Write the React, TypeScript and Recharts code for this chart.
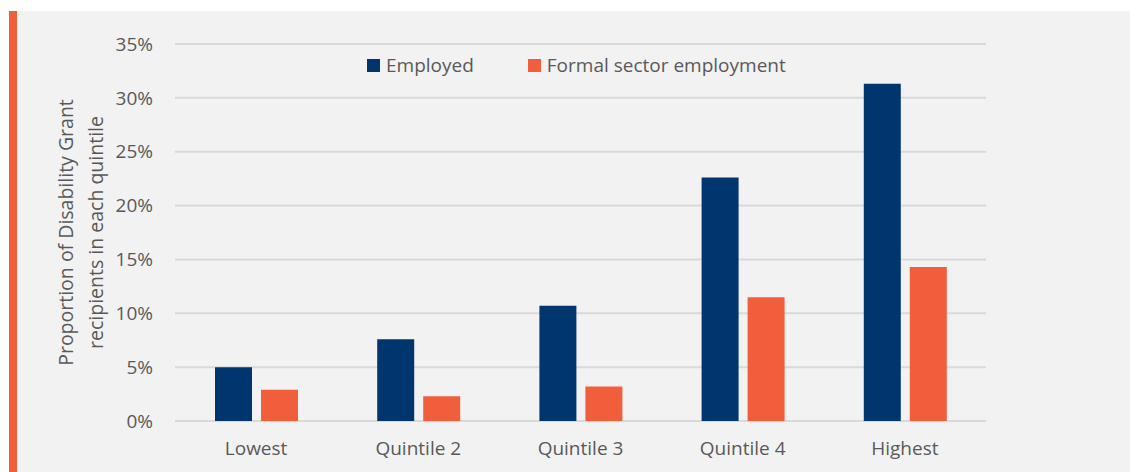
import React from 'react';
import { BarChart, Bar, XAxis, YAxis, CartesianGrid, Label } from 'recharts';

const quintiles = ['Lowest', 'Quintile 2', 'Quintile 3', 'Quintile 4', 'Highest'];
const employed = [5.0, 7.6, 10.7, 22.6, 31.3];
const formalSector = [2.9, 2.3, 3.2, 11.5, 14.3];
const yTicks = [0, 5, 10, 15, 20, 25, 30, 35];

const NAVY = '#00356E';
const ORANGE = '#F15E3C';
const TEXT = '#595959';
const FONT = '"Open Sans", sans-serif';

const data = quintiles.map((q, i) => ({ quintile: q, employed: employed[i], formal: formalSector[i] }));

const legendItems = [
  { label: 'Employed', color: NAVY },
  { label: 'Formal sector employment', color: ORANGE },
];

const ChartLegend = () => (
  <div style={{ display: 'flex', alignItems: 'center', fontFamily: FONT, fontSize: 19, color: TEXT }}>
    {legendItems.map((item, i) => (
      <div key={item.label} style={{ display: 'flex', alignItems: 'center', marginRight: i === 0 ? 54 : 0 }}>
        <span style={{ width: 13, height: 13, background: item.color, display: 'inline-block', marginRight: 6 }} />
        <span>{item.label}</span>
      </div>
    ))}
  </div>
);

const AxisTitle = (props: any) => {
  const { viewBox } = props;
  const cy = viewBox.y + viewBox.height / 2;
  return (
    <g>
      <text x={65} y={cy} transform={`rotate(-90, 65, ${cy})`} textAnchor="middle" dominantBaseline="central"
        fill={TEXT} fontSize={19.5} fontFamily={FONT}>Proportion of Disability Grant</text>
      <text x={95} y={cy} transform={`rotate(-90, 95, ${cy})`} textAnchor="middle" dominantBaseline="central"
        fill={TEXT} fontSize={19.5} fontFamily={FONT}>recipients in each quintile</text>
    </g>
  );
};

export default function App() {
  return (
    <div style={{ position: 'fixed', left: 0, top: 0, width: 1130, height: 472, background: '#ffffff', overflow: 'hidden' }}>
      <div style={{ position: 'absolute', left: 9, top: 11, width: 8, height: 461, background: ORANGE }} />
      <div style={{ position: 'absolute', left: 17, top: 11, width: 1113, height: 461, background: '#F2F2F2' }} />
      <div style={{ position: 'absolute', left: 0, top: 11 }}>
        <BarChart width={1130} height={461} data={data} margin={{ top: 33, right: 144, bottom: 11, left: 0 }}
          barSize={37} barGap={9}>
          <CartesianGrid vertical={false} stroke="#D9D9D9" strokeWidth={2} />
          <XAxis dataKey="quintile" axisLine={false} tickLine={false} height={40} tickSize={0} tickMargin={21}
            tick={{ fill: TEXT, fontSize: 19, fontFamily: FONT }} />
          <YAxis width={175} domain={[0, 35]} ticks={yTicks} tickFormatter={(v: number) => `${v}%`}
            axisLine={false} tickLine={false} tickSize={0} tickMargin={22}
            tick={{ fill: TEXT, fontSize: 19, fontFamily: FONT }}>
            <Label content={<AxisTitle />} />
          </YAxis>
          <Bar dataKey="employed" name="Employed" fill={NAVY} isAnimationActive={false} />
          <Bar dataKey="formal" name="Formal sector employment" fill={ORANGE} isAnimationActive={false} />
        </BarChart>
      </div>
      <div style={{ position: 'absolute', left: 367, top: 52 }}>
        <ChartLegend />
      </div>
    </div>
  );
}
